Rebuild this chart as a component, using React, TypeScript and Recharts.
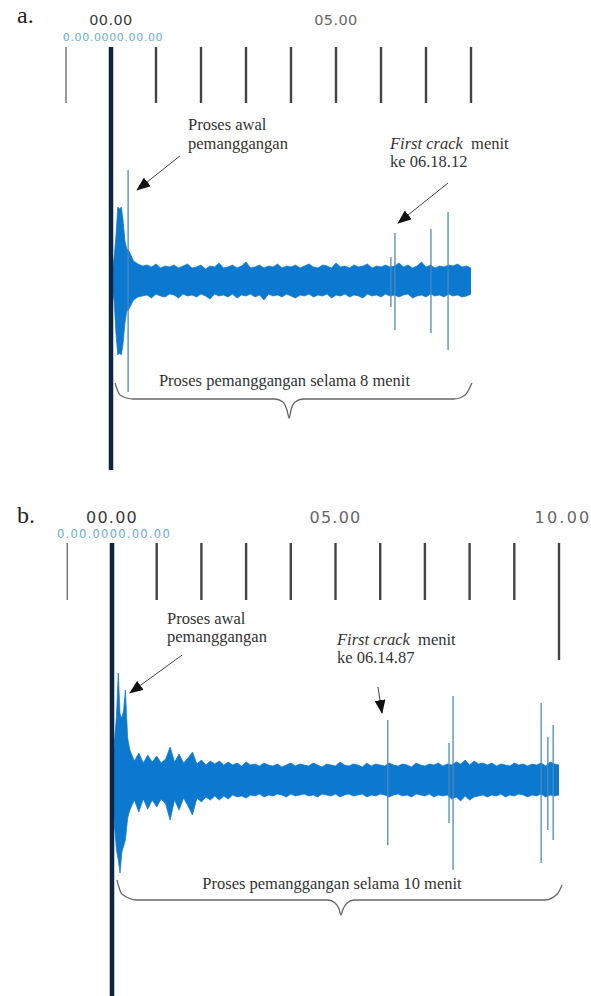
import { Area, ComposedChart, Line, ReferenceLine, XAxis, YAxis } from 'recharts';

// ---- panel a: 8 minute roast ----
const aRulerTicks = [-1, 0, 1, 2, 3, 4, 5, 6, 7, 8];
const aTickLabels = [0, 5];
const aBurstTime = [0.02, 0.07, 0.11, 0.15, 0.19, 0.23, 0.27, 0.31, 0.35];
const aBurstHi = [0.06, 0.24, 0.45, 0.74, 0.72, 0.74, 0.6, 0.4, 0.32];
const aBurstLo = [-0.06, -0.2, -0.52, -0.74, -0.72, -0.74, -0.62, -0.42, -0.3];
// envelope every 0.1 min from 0.4 to 8.0
const aHi = [
  0.30, 0.20, 0.17, 0.15, 0.16, 0.14, 0.17, 0.13, 0.15, 0.14,
  0.16, 0.13, 0.15, 0.17, 0.13, 0.14, 0.16, 0.12, 0.15, 0.14,
  0.18, 0.13, 0.14, 0.16, 0.13, 0.15, 0.19, 0.13, 0.14, 0.16,
  0.13, 0.15, 0.14, 0.17, 0.13, 0.15, 0.14, 0.16, 0.13, 0.15,
  0.17, 0.14, 0.13, 0.16, 0.15, 0.13, 0.18, 0.14, 0.15, 0.13,
  0.16, 0.14, 0.15, 0.17, 0.13, 0.15, 0.14, 0.16, 0.14, 0.15,
  0.18, 0.14, 0.16, 0.13, 0.15, 0.19, 0.14, 0.16, 0.13, 0.15,
  0.14, 0.16, 0.15, 0.17, 0.14, 0.15, 0.13,
];
const aLo = [
  -0.28, -0.19, -0.16, -0.15, -0.14, -0.17, -0.13, -0.15, -0.16, -0.13,
  -0.14, -0.17, -0.13, -0.15, -0.14, -0.16, -0.13, -0.15, -0.18, -0.13,
  -0.15, -0.14, -0.16, -0.13, -0.17, -0.14, -0.15, -0.13, -0.16, -0.14,
  -0.19, -0.13, -0.15, -0.14, -0.16, -0.13, -0.15, -0.17, -0.14, -0.15,
  -0.13, -0.16, -0.14, -0.15, -0.13, -0.17, -0.14, -0.15, -0.13, -0.16,
  -0.14, -0.15, -0.17, -0.13, -0.15, -0.14, -0.16, -0.13, -0.15, -0.14,
  -0.16, -0.14, -0.13, -0.17, -0.15, -0.14, -0.16, -0.13, -0.15, -0.14,
  -0.16, -0.13, -0.15, -0.14, -0.16, -0.15, -0.13,
];
const aSpikeTime = [0.38, 6.22, 6.31, 7.11, 7.49];
const aSpikeHi = [1.11, 0.24, 0.48, 0.52, 0.69];
const aSpikeLo = [-1.11, -0.26, -0.49, -0.52, -0.69];
const aBraceT = [0.09, 0.2, 0.49, 3.64, 3.82, 3.91, 3.96, 4.0, 4.09, 4.27, 7.62, 7.87, 8.02];
const aBraceY = [-1.02, -1.14, -1.18, -1.18, -1.21, -1.29, -1.37, -1.29, -1.21, -1.18, -1.18, -1.14, -1.02];

// ---- panel b: 10 minute roast ----
const bRulerTicks = [-1, 0, 1, 2, 3, 4, 5, 6, 7, 8, 9];
const bTickLabels = [0, 5, 10];
const bBurstTime = [0.02, 0.06, 0.1, 0.14, 0.18, 0.22, 0.26, 0.3, 0.35];
const bBurstHi = [0.1, 0.42, 0.64, 1.07, 0.66, 0.62, 0.7, 0.9, 0.42];
const bBurstLo = [-0.1, -0.48, -0.7, -0.8, -0.93, -0.72, -0.66, -0.6, -0.38];
// envelope every 0.1 min from 0.4 to 10.0
const bHi = [
  0.30, 0.19, 0.27, 0.17, 0.25, 0.18, 0.24, 0.17, 0.21, 0.33,
  0.18, 0.26, 0.17, 0.22, 0.28, 0.16, 0.20, 0.15, 0.19, 0.16,
  0.19, 0.15, 0.18, 0.15, 0.17, 0.14, 0.18, 0.15, 0.16, 0.14,
  0.17, 0.15, 0.14, 0.16, 0.13, 0.15, 0.17, 0.14, 0.16, 0.15,
  0.14, 0.17, 0.15, 0.13, 0.16, 0.15, 0.14, 0.18, 0.15, 0.14,
  0.16, 0.15, 0.13, 0.17, 0.14, 0.16, 0.15, 0.14, 0.17, 0.15,
  0.14, 0.16, 0.15, 0.13, 0.17, 0.15, 0.14, 0.16, 0.15, 0.17,
  0.14, 0.16, 0.15, 0.18, 0.16, 0.20, 0.15, 0.19, 0.16, 0.17,
  0.15, 0.17, 0.14, 0.16, 0.15, 0.14, 0.17, 0.15, 0.16, 0.14,
  0.16, 0.15, 0.17, 0.14, 0.18, 0.16, 0.15,
];
const bLo = [
  -0.30, -0.20, -0.32, -0.19, -0.29, -0.20, -0.27, -0.19, -0.24, -0.40,
  -0.20, -0.30, -0.18, -0.26, -0.35, -0.18, -0.22, -0.17, -0.20, -0.16,
  -0.20, -0.16, -0.19, -0.15, -0.17, -0.16, -0.18, -0.15, -0.16, -0.14,
  -0.17, -0.15, -0.16, -0.14, -0.15, -0.17, -0.14, -0.16, -0.15, -0.14,
  -0.16, -0.15, -0.17, -0.14, -0.15, -0.16, -0.14, -0.17, -0.15, -0.14,
  -0.16, -0.15, -0.14, -0.17, -0.15, -0.16, -0.14, -0.15, -0.17, -0.15,
  -0.14, -0.16, -0.15, -0.17, -0.14, -0.15, -0.16, -0.14, -0.17, -0.15,
  -0.16, -0.15, -0.19, -0.17, -0.21, -0.16, -0.20, -0.17, -0.16, -0.15,
  -0.17, -0.15, -0.16, -0.14, -0.17, -0.15, -0.16, -0.14, -0.15, -0.17,
  -0.15, -0.16, -0.14, -0.17, -0.15, -0.16, -0.15,
];
const bSpikeTime = [6.17, 7.54, 7.63, 9.6, 9.75, 9.87];
const bSpikeHi = [0.6, 0.37, 0.84, 0.77, 0.43, 0.55];
const bSpikeLo = [-0.65, -0.43, -0.9, -0.83, -0.5, -0.6];
const bBraceT = [0.11, 0.22, 0.56, 4.83, 4.99, 5.08, 5.12, 5.17, 5.26, 5.41, 9.69, 9.96, 10.07];
const bBraceY = [-1.0, -1.14, -1.2, -1.2, -1.23, -1.29, -1.35, -1.29, -1.23, -1.2, -1.2, -1.14, -1.05];

const WAVE = '#0b79d0';
const SPIKE = '#4f89b6';
const PLAYHEAD = '#0c2544';
const serif = '"Liberation Serif", "Times New Roman", serif';
const sans = '"DejaVu Sans", sans-serif';

const buildBand = (bt: number[], bh: number[], bl: number[], hi: number[], lo: number[]) => [
  ...bt.map((t, i) => ({ t, band: [bl[i], bh[i]] })),
  ...hi.map((h, i) => ({ t: Math.round((0.4 + i * 0.1) * 100) / 100, band: [lo[i], h] })),
];

const buildBrace = (ts: number[], ys: number[]) => ts.map((t, i) => ({ t, y: ys[i] }));

const fmtMinute = (v: number) => `${String(v).padStart(2, '0')}.00`;

function makeTick(labelSize: number, labelDy: number, subDy: number, subSize: number, spacing: number) {
  return (props: any) => {
    const { x, y, payload } = props;
    const v = payload.value;
    return (
      <g>
        <text
          x={v === 10 ? x + 4 : x}
          y={y + labelDy}
          textAnchor="middle"
          fontFamily={sans}
          fontSize={labelSize}
          letterSpacing={v === 10 ? spacing + 1 : spacing}
          fill={v === 0 ? '#3a3a3a' : '#666'}
        >
          {fmtMinute(v)}
        </text>
        {v === 0 && (
          <text
            x={x + 2}
            y={y + subDy}
            textAnchor="middle"
            fontFamily={sans}
            fontSize={subSize}
            letterSpacing={spacing * 0.8 + 0.3}
            fill="#6aaecb"
          >
            0.00.0000.00.00
          </text>
        )}
      </g>
    );
  };
}

function ArrowDefs() {
  return (
    <defs>
      <marker id="arrowHead" markerWidth="14" markerHeight="11" refX="13" refY="5.5" orient="auto" markerUnits="userSpaceOnUse">
        <path d="M0,0 L14,5.5 L0,11 z" fill="#111" />
      </marker>
    </defs>
  );
}

function PanelA() {
  const data = buildBand(aBurstTime, aBurstHi, aBurstLo, aHi, aLo);
  const yTop = 2.34;
  return (
    <ComposedChart width={591} height={498} data={data} margin={{ top: 17, right: 30, bottom: 28, left: 21 }}>
      <ArrowDefs />
      <XAxis
        dataKey="t"
        type="number"
        orientation="top"
        domain={[-2, 10]}
        ticks={aTickLabels}
        interval={0}
        height={30}
        axisLine={false}
        tickLine={false}
        allowDataOverflow
        tick={makeTick(14.5, -14, 2, 11, 0.4)}
      />
      <YAxis hide type="number" domain={[-1.89, yTop]} allowDataOverflow />
      {aRulerTicks.map((t) => (
        <ReferenceLine
          key={`ra${t}`}
          segment={[{ x: t, y: yTop }, { x: t, y: yTop - 0.56 }]}
          stroke={t < 0 ? '#777' : '#444'}
          strokeWidth={t < 0 ? 1.5 : 2.4}
        />
      ))}
      <Area dataKey="band" type="linear" stroke={WAVE} strokeWidth={0.7} fill={WAVE} fillOpacity={1} dot={false} activeDot={false} isAnimationActive={false} />
      {aSpikeTime.map((t, i) => (
        <ReferenceLine key={`sa${i}`} segment={[{ x: t, y: aSpikeLo[i] }, { x: t, y: aSpikeHi[i] }]} stroke={SPIKE} strokeWidth={1.3} />
      ))}
      <Line data={buildBrace(aBraceT, aBraceY)} dataKey="y" type="monotone" stroke="#666" strokeWidth={1.3} dot={false} activeDot={false} isAnimationActive={false} />
      <ReferenceLine x={0} stroke={PLAYHEAD} strokeWidth={4.5} />
      <ReferenceLine segment={[{ x: 1.53, y: 1.25 }, { x: 0.58, y: 0.91 }]} stroke="#444" strokeWidth={1} markerEnd="url(#arrowHead)" />
      <ReferenceLine segment={[{ x: 7.49, y: 0.98 }, { x: 6.38, y: 0.58 }]} stroke="#444" strokeWidth={1} markerEnd="url(#arrowHead)" />
      <text x={17} y={23} fontFamily={serif} fontSize={24} fill="#222">a.</text>
      <text x={188} y={130} fontFamily={serif} fontSize={16.5} fill="#333">Proses awal</text>
      <text x={188} y={149} fontFamily={serif} fontSize={16.5} fill="#333">pemanggangan</text>
      <text x={390} y={149} fontFamily={serif} fontSize={16.5} fill="#333">
        <tspan fontStyle="italic">First crack</tspan>
        <tspan>{'\u00a0\u00a0menit'}</tspan>
      </text>
      <text x={390} y={167} fontFamily={serif} fontSize={16.5} fill="#333">ke 06.18.12</text>
      <text x={284.5} y={386} textAnchor="middle" fontFamily={serif} fontSize={16.5} fill="#333">
        Proses pemanggangan selama 8 menit
      </text>
    </ComposedChart>
  );
}

function PanelB() {
  const data = buildBand(bBurstTime, bBurstHi, bBurstLo, bHi, bLo);
  const yTop = 2.37;
  return (
    <ComposedChart width={591} height={498} data={data} margin={{ top: 15, right: 9.65, bottom: 0, left: 22.6 }}>
      <ArrowDefs />
      <XAxis
        dataKey="t"
        type="number"
        orientation="top"
        domain={[-2, 10.5]}
        ticks={bTickLabels}
        interval={0}
        height={30}
        axisLine={false}
        tickLine={false}
        allowDataOverflow
        tick={makeTick(16, -12, 3, 11.5, 1.2)}
      />
      <YAxis hide type="number" domain={[-2.16, yTop]} allowDataOverflow />
      {bRulerTicks.map((t) => (
        <ReferenceLine
          key={`rb${t}`}
          segment={[{ x: t, y: yTop }, { x: t, y: yTop - 0.57 }]}
          stroke={t < 0 ? '#777' : '#444'}
          strokeWidth={t < 0 ? 1.5 : 2.4}
        />
      ))}
      <ReferenceLine segment={[{ x: 10, y: yTop }, { x: 10, y: 1.2 }]} stroke="#444" strokeWidth={2.4} />
      <Area dataKey="band" type="linear" stroke={WAVE} strokeWidth={0.7} fill={WAVE} fillOpacity={1} dot={false} activeDot={false} isAnimationActive={false} />
      {bSpikeTime.map((t, i) => (
        <ReferenceLine key={`sb${i}`} segment={[{ x: t, y: bSpikeLo[i] }, { x: t, y: bSpikeHi[i] }]} stroke={SPIKE} strokeWidth={1.3} />
      ))}
      <Line data={buildBrace(bBraceT, bBraceY)} dataKey="y" type="monotone" stroke="#666" strokeWidth={1.3} dot={false} activeDot={false} isAnimationActive={false} />
      <ReferenceLine x={0} stroke={PLAYHEAD} strokeWidth={4.5} />
      <ReferenceLine segment={[{ x: 1.57, y: 1.25 }, { x: 0.4, y: 0.87 }]} stroke="#444" strokeWidth={1} markerEnd="url(#arrowHead)" />
      <ReferenceLine segment={[{ x: 5.95, y: 0.93 }, { x: 6.04, y: 0.67 }]} stroke="#444" strokeWidth={1} markerEnd="url(#arrowHead)" />
      <text x={17} y={25} fontFamily={serif} fontSize={24} fill="#222">b.</text>
      <text x={167} y={126} fontFamily={serif} fontSize={16.5} fill="#333">Proses awal</text>
      <text x={167} y={144} fontFamily={serif} fontSize={16.5} fill="#333">pemanggangan</text>
      <text x={337} y={147} fontFamily={serif} fontSize={16.5} fill="#333">
        <tspan fontStyle="italic">First crack</tspan>
        <tspan>{'\u00a0\u00a0menit'}</tspan>
      </text>
      <text x={337} y={165} fontFamily={serif} fontSize={16.5} fill="#333">ke 06.14.87</text>
      <text x={332} y={391} textAnchor="middle" fontFamily={serif} fontSize={16.5} fill="#333">
        Proses pemanggangan selama 10 menit
      </text>
    </ComposedChart>
  );
}

export default function App() {
  return (
    <div style={{ position: 'absolute', left: 0, top: 0, width: 591, height: 996, background: '#fff', overflow: 'hidden' }}>
      <div style={{ position: 'absolute', left: 0, top: 0 }}>
        <PanelA />
      </div>
      <div style={{ position: 'absolute', left: 0, top: 498 }}>
        <PanelB />
      </div>
    </div>
  );
}
